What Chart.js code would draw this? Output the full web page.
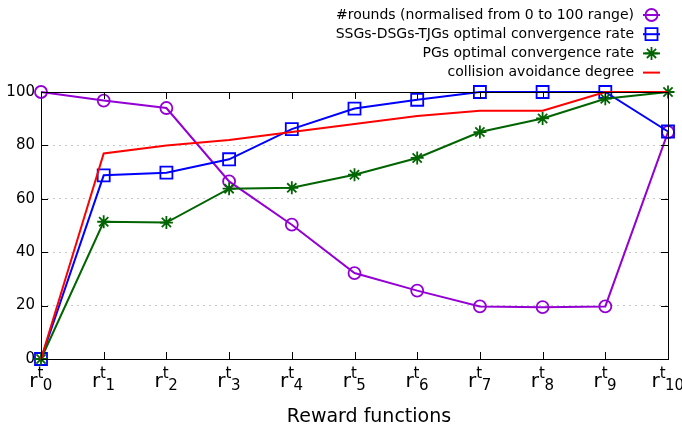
<!DOCTYPE html>
<html>
<head>
<meta charset="utf-8">
<script src="https://cdn.jsdelivr.net/npm/chart.js@4/dist/chart.umd.min.js"></script>
<style>
  html, body { margin: 0; padding: 0; background: #fff; }
  #c { display: block; }
</style>
</head>
<body>
<canvas id="c" width="682" height="428"></canvas>
<script>
// Reward function indices r^t_0 … r^t_10
const categories = ['0', '1', '2', '3', '4', '5', '6', '7', '8', '9', '10'];
const yTicks = [0, 20, 40, 60, 80, 100];

const roundsNorm   = [100, 96.8, 94.0, 66.5, 50.3, 32.2, 25.6, 19.7, 19.4, 19.7, 85.0];
const ssgsRate     = [0, 68.8, 69.8, 74.8, 86.1, 93.8, 97.1, 100, 100, 100, 85.2];
const pgsRate      = [0, 51.4, 51.1, 63.8, 64.1, 69.0, 75.3, 85.0, 90.1, 97.5, 100];
const collisionDeg = [0, 77.0, 80.0, 82.0, 85.0, 88.0, 91.0, 93.0, 93.0, 100, 100];

const seriesNames = [
  '#rounds (normalised from 0 to 100 range)',
  'SSGs-DSGs-TJGs optimal convergence rate',
  'PGs optimal convergence rate',
  'collision avoidance degree'
];
const xTitle = 'Reward functions';

const FONT = "'DejaVu Sans', sans-serif";
const TICK = 7;
const MARK = { circle: 6, rect: 8.5, star: 6.5 };

function series(label, data, color, style, order) {
  const r = style ? MARK[style] : 0;
  return {
    label, data, order,
    borderColor: color,
    backgroundColor: color,
    borderWidth: 2,
    pointStyle: style,
    pointRadius: r,
    pointHoverRadius: r,
    pointBorderWidth: 1.8,
    pointBorderColor: color,
    pointBackgroundColor: 'rgba(0,0,0,0)',
    tension: 0,
    clip: false
  };
}

const datasets = [
  series(seriesNames[0], roundsNorm, '#9400d3', 'circle', 4),
  series(seriesNames[1], ssgsRate, '#0000ff', 'rect', 3),
  series(seriesNames[2], pgsRate, '#006400', 'star', 2),
  series(seriesNames[3], collisionDeg, '#ff0000', false, 1)
];

// Border, inward ticks, x labels with sub/superscripts, axis title and key
const decorations = {
  id: 'decorations',
  afterDatasetsDraw(chart) {
    const { ctx, chartArea: a, scales: { x, y } } = chart;
    ctx.save();
    ctx.strokeStyle = '#000';
    ctx.lineWidth = 1;
    ctx.beginPath();
    yTicks.forEach(v => {
      const py = Math.round(y.getPixelForValue(v)) + 0.5;
      ctx.moveTo(a.left, py); ctx.lineTo(a.left + TICK, py);
      ctx.moveTo(a.right, py); ctx.lineTo(a.right - TICK, py);
    });
    categories.forEach((c, i) => {
      const px = Math.round(x.getPixelForValue(i)) + 0.5;
      ctx.moveTo(px, a.bottom); ctx.lineTo(px, a.bottom - TICK);
      ctx.moveTo(px, a.top); ctx.lineTo(px, a.top + TICK);
    });
    ctx.stroke();
    ctx.strokeRect(Math.round(a.left) + 0.5, Math.round(a.top) + 0.5,
                   Math.round(a.right - a.left), Math.round(a.bottom - a.top));

    // x tick labels: r with superscript t and subscript index
    ctx.fillStyle = '#000';
    ctx.textBaseline = 'alphabetic';
    ctx.textAlign = 'left';
    const baseFont = '20px ' + FONT, smallFont = '15px ' + FONT;
    const baseY = 387;
    categories.forEach((c, i) => {
      const px = x.getPixelForValue(i);
      ctx.font = baseFont; const wr = ctx.measureText('r').width;
      ctx.font = smallFont;
      const wt = ctx.measureText('t').width, ws = ctx.measureText(c).width;
      const sx = px - (wr + wt + ws) / 2;
      ctx.font = baseFont; ctx.fillText('r', sx, baseY);
      ctx.font = smallFont;
      ctx.fillText('t', sx + wr, baseY - 9);
      ctx.fillText(c, sx + wr + wt - 0.5, baseY + 3);
    });

    // axis title
    ctx.font = '19px ' + FONT;
    ctx.textAlign = 'center';
    ctx.fillText(xTitle, 369, 422);

    // key
    ctx.font = '14px ' + FONT;
    ctx.textAlign = 'right';
    ctx.textBaseline = 'middle';
    chart.data.datasets.forEach((ds, i) => {
      const ry = 15 + 19.2 * i;
      ctx.fillStyle = '#000';
      ctx.fillText(ds.label, 634, ry);
      ctx.strokeStyle = ds.borderColor;
      ctx.lineWidth = 2;
      ctx.beginPath();
      ctx.moveTo(643, ry); ctx.lineTo(660, ry);
      ctx.stroke();
      if (ds.pointStyle) {
        ctx.fillStyle = 'rgba(0,0,0,0)';
        ctx.lineWidth = 1.8;
        Chart.helpers.drawPoint(ctx, { pointStyle: ds.pointStyle, radius: MARK[ds.pointStyle], borderWidth: 1.8, rotation: 0 }, 651.5, ry);
      }
    });
    ctx.restore();
  }
};

new Chart(document.getElementById('c'), {
  type: 'line',
  data: { labels: categories, datasets },
  options: {
    responsive: false,
    animation: false,
    devicePixelRatio: 1,
    layout: { padding: { top: 92, right: 14, left: 0, bottom: 0 } },
    plugins: { legend: { display: false }, tooltip: { enabled: false } },
    scales: {
      x: {
        type: 'category',
        offset: false,
        grid: { display: false },
        border: { display: false },
        ticks: { display: false },
        afterFit: s => { s.height = 69; }
      },
      y: {
        min: 0, max: 100,
        afterFit: s => { s.width = 41; },
        ticks: {
          stepSize: 20,
          padding: 6,
          color: '#000',
          font: { family: FONT, size: 15 }
        },
        grid: {
          drawTicks: false,
          color: ctx => (ctx.tick && (ctx.tick.value === 0 || ctx.tick.value === 100)) ? 'rgba(0,0,0,0)' : '#c8c8c8',
          lineWidth: 1
        },
        border: { display: false, dash: [2, 4] }
      }
    }
  },
  plugins: [decorations]
});
</script>
</body>
</html>
